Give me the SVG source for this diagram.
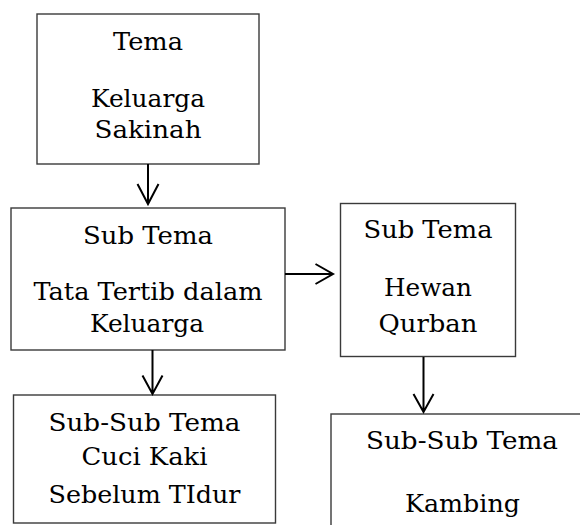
<svg xmlns="http://www.w3.org/2000/svg" width="580" height="525" viewBox="0 0 580 525">
<style>
.box{fill:#fff;stroke:#3a3a3a;stroke-width:1.4}
.t{font-family:"DejaVu Serif","Liberation Serif",serif;font-size:25px;fill:#000;text-anchor:middle}
.c{fill:none;stroke:#000;stroke-width:2}
</style>
<rect width="580" height="525" fill="#fff"/>
<g id="n1">
<rect class="box" x="37" y="14" width="222" height="150"/>
<text class="t" x="148" y="50" textLength="70" lengthAdjust="spacingAndGlyphs">Tema</text>
<text class="t" x="148" y="107" textLength="114" lengthAdjust="spacingAndGlyphs">Keluarga</text>
<text class="t" x="148" y="138" textLength="107" lengthAdjust="spacingAndGlyphs">Sakinah</text>
</g>
<g id="n2">
<rect class="box" x="11" y="208" width="274" height="142"/>
<text class="t" x="148" y="244" textLength="130" lengthAdjust="spacingAndGlyphs">Sub Tema</text>
<text class="t" x="148" y="300" textLength="229" lengthAdjust="spacingAndGlyphs">Tata Tertib dalam</text>
<text class="t" x="147" y="332" textLength="114" lengthAdjust="spacingAndGlyphs">Keluarga</text>
</g>
<g id="n3">
<rect class="box" x="340.5" y="203.5" width="175" height="153"/>
<text class="t" x="428" y="238" textLength="129" lengthAdjust="spacingAndGlyphs">Sub Tema</text>
<text class="t" x="428" y="296" textLength="88" lengthAdjust="spacingAndGlyphs">Hewan</text>
<text class="t" x="428" y="332" textLength="99" lengthAdjust="spacingAndGlyphs">Qurban</text>
</g>
<g id="n4">
<rect class="box" x="13.5" y="395" width="262" height="128"/>
<text class="t" x="144.5" y="431" textLength="192" lengthAdjust="spacingAndGlyphs">Sub-Sub Tema</text>
<text class="t" x="144.5" y="465" textLength="126" lengthAdjust="spacingAndGlyphs">Cuci Kaki</text>
<text class="t" x="144.5" y="502.5" textLength="192" lengthAdjust="spacingAndGlyphs">Sebelum TIdur</text>
</g>
<g id="n5">
<rect class="box" x="331" y="414" width="260" height="130"/>
<text class="t" x="462" y="449" textLength="192" lengthAdjust="spacingAndGlyphs">Sub-Sub Tema</text>
<text class="t" x="462.5" y="511.5" textLength="115" lengthAdjust="spacingAndGlyphs">Kambing</text>
</g>
<g id="connectors">
<path class="c" d="M148,164 V204 M137.5,184 L148,204 L158.5,184"/>
<path class="c" d="M285,274 H333 M315.5,264 L333,274 L315.5,284"/>
<path class="c" d="M152.5,350 V394 M142.5,375.5 L152.5,394 L162.5,375.5"/>
<path class="c" d="M423.5,357 V412 M413.5,394 L423.5,412 L433.5,394"/>
</g>
</svg>
